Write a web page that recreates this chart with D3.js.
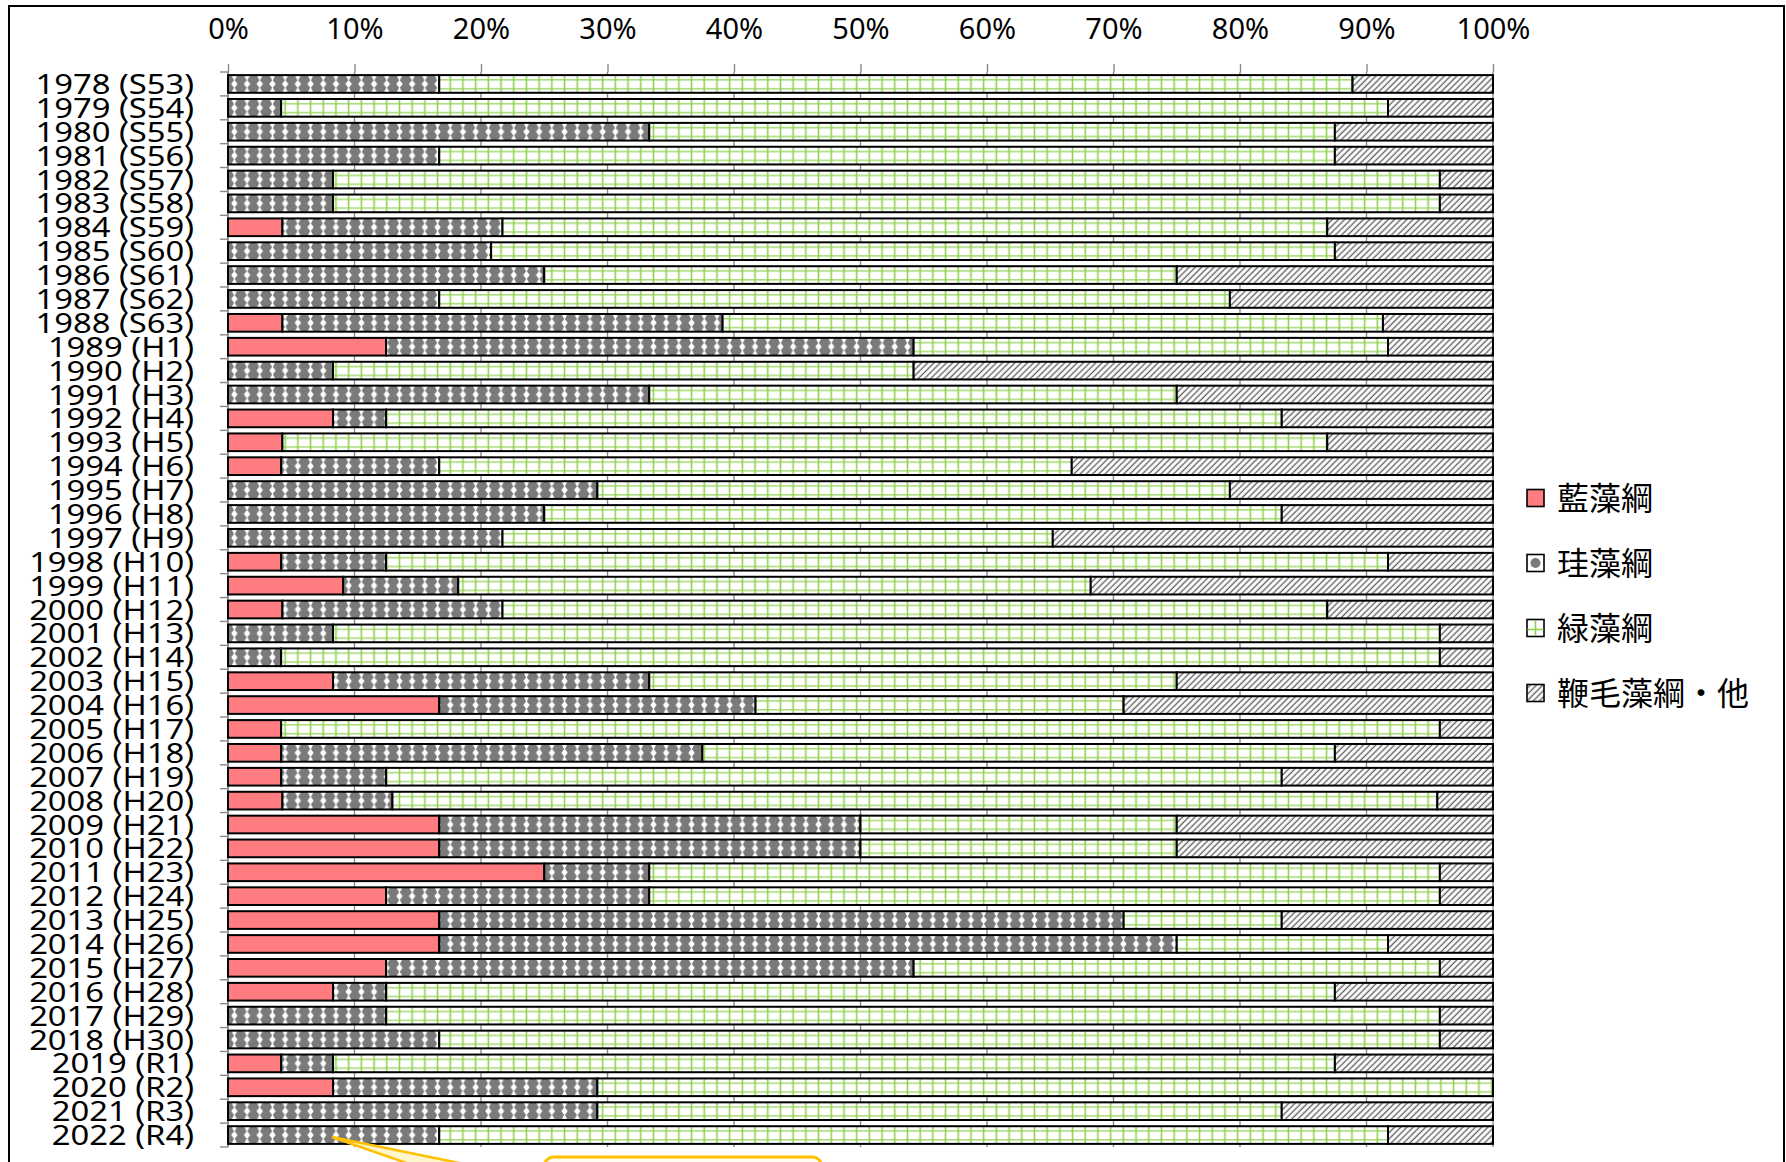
<!DOCTYPE html>
<html><head><meta charset="utf-8">
<script src="https://cdn.jsdelivr.net/npm/d3@7"></script>
<style>body{margin:0;background:#fff}svg{display:block}</style>
</head><body>
<svg id="c" width="1786" height="1162"></svg>
<script>
const categories = ["1978 (S53)","1979 (S54)","1980 (S55)","1981 (S56)","1982 (S57)","1983 (S58)","1984 (S59)","1985 (S60)","1986 (S61)","1987 (S62)","1988 (S63)","1989 (H1)","1990 (H2)","1991 (H3)","1992 (H4)","1993 (H5)","1994 (H6)","1995 (H7)","1996 (H8)","1997 (H9)","1998 (H10)","1999 (H11)","2000 (H12)","2001 (H13)","2002 (H14)","2003 (H15)","2004 (H16)","2005 (H17)","2006 (H18)","2007 (H19)","2008 (H20)","2009 (H21)","2010 (H22)","2011 (H23)","2012 (H24)","2013 (H25)","2014 (H26)","2015 (H27)","2016 (H28)","2017 (H29)","2018 (H30)","2019 (R1)","2020 (R2)","2021 (R3)","2022 (R4)"];
const seriesNames = ["藍藻綱","珪藻綱","緑藻綱","鞭毛藻綱・他"];
const cyano   = [0,0,0,0,0,0,4.3,0,0,0,4.3,12.5,0,0,8.3,4.3,4.2,0,0,0,4.2,9.1,4.3,0,0,8.3,16.7,4.2,4.2,4.2,4.3,16.7,16.7,25.0,12.5,16.7,16.7,12.5,8.3,0,0,4.2,8.3,0,0];
const diatom  = [16.7,4.2,33.3,16.7,8.3,8.3,17.4,20.8,25.0,16.7,34.8,41.7,8.3,33.3,4.2,0,12.5,29.2,25.0,21.7,8.3,9.1,17.4,8.3,4.2,25.0,25.0,0,33.3,8.3,8.7,33.3,33.3,8.3,20.8,54.1,58.3,41.7,4.2,12.5,16.7,4.1,20.9,29.2,16.7];
const green   = [72.2,87.5,54.2,70.8,87.5,87.5,65.2,66.7,50.0,62.5,52.2,37.5,45.9,41.7,70.8,82.6,50.0,50.0,58.3,43.5,79.2,50.0,65.2,87.5,91.6,41.7,29.1,91.6,50.0,70.8,82.6,25.0,25.0,62.5,62.5,12.5,16.7,41.6,75.0,83.3,79.1,79.2,70.8,54.1,75.0];
const other   = [11.1,8.3,12.5,12.5,4.2,4.2,13.1,12.5,25.0,20.8,8.7,8.3,45.8,25.0,16.7,13.1,33.3,20.8,16.7,34.8,8.3,31.8,13.1,4.2,4.2,25.0,29.2,4.2,12.5,16.7,4.4,25.0,25.0,4.2,4.2,16.7,8.3,4.2,12.5,4.2,4.2,12.5,0,16.7,8.3];
const xTicks = [0,10,20,30,40,50,60,70,80,90,100];

const svg = d3.select("#c");
const W = 1786, H = 1162;
const x = d3.scaleLinear().domain([0,100]).range([228,1493]);
const y = d3.scaleBand().domain(categories).range([72,1147]).paddingInner(0.26).paddingOuter(0.13);
const bh = y.bandwidth();
const FONT = "'Noto Sans','Open Sans',sans-serif";
const JFONT = "'Noto Sans CJK JP','Noto Sans',sans-serif";

// patterns
const defs = svg.append("defs");
const pw = 12.7;
const pDia = defs.append("pattern").attr("id","pDia").attr("patternUnits","userSpaceOnUse")
  .attr("width",pw).attr("height",bh).attr("x",x(0));
pDia.append("rect").attr("width",pw).attr("height",bh).attr("fill","#7a7a7a");
const cx = pw/2;
pDia.append("path").attr("fill","#fff")
  .attr("d",`M${cx-3.0},0 L${cx+3.0},0 L${cx},${bh*0.33} Z M${cx-3.0},${bh} L${cx+3.0},${bh} L${cx},${bh*0.67} Z`);
pDia.append("path").attr("fill","#fff")
  .attr("d",`M${cx},${bh/2-4.2} L${cx+3.2},${bh/2} L${cx},${bh/2+4.2} L${cx-3.2},${bh/2} Z`);

const pGr = defs.append("pattern").attr("id","pGr").attr("patternUnits","userSpaceOnUse")
  .attr("width",pw).attr("height",bh).attr("x",x(0));
pGr.append("rect").attr("width",pw).attr("height",bh).attr("fill","#fff");
pGr.append("line").attr("x1",pw/2).attr("x2",pw/2).attr("y1",0).attr("y2",bh).attr("stroke","#8fd14f").attr("stroke-width",1.6);
[0.27,0.77].forEach(f=>pGr.append("line").attr("x1",0).attr("x2",pw).attr("y1",bh*f).attr("y2",bh*f).attr("stroke","#8fd14f").attr("stroke-width",1.2));

const pHa = defs.append("pattern").attr("id","pHa").attr("patternUnits","userSpaceOnUse")
  .attr("width",4.4).attr("height",4.4).attr("patternTransform","rotate(45)");
pHa.append("rect").attr("width",4.4).attr("height",4.4).attr("fill","#fff");
pHa.append("line").attr("x1",1.2).attr("x2",1.2).attr("y1",0).attr("y2",4.4).attr("stroke","#666").attr("stroke-width",1.4);

const fills = ["#ff7c80","url(#pDia)","url(#pGr)","url(#pHa)"];

// frame
svg.append("rect").attr("x",9).attr("y",6).attr("width",W-11).attr("height",H+20)
  .attr("fill","none").attr("stroke","#000").attr("stroke-width",2);

// gridlines
svg.append("g").selectAll("line").data(xTicks).join("line")
  .attr("x1",d=>x(d)).attr("x2",d=>x(d)).attr("y1",y.range()[0]).attr("y2",y.range()[1])
  .attr("stroke","#8a8a8a").attr("stroke-width",1.4);

// top axis
const ax = svg.append("g").attr("transform",`translate(0,${y.range()[0]})`)
  .call(d3.axisTop(x).tickValues(xTicks).tickFormat(d=>d+"%").tickSize(8).tickSizeOuter(0));
ax.select(".domain").remove();
ax.selectAll(".tick line").attr("stroke","#8a8a8a").attr("stroke-width",1.4);
ax.selectAll(".tick text").attr("font-family",FONT).attr("font-size",29).attr("fill","#000").attr("y",-33).attr("dy",0);

// left axis line and ticks
svg.append("line").attr("x1",x(0)).attr("x2",x(0)).attr("y1",y.range()[0]).attr("y2",y.range()[1])
  .attr("stroke","#8a8a8a").attr("stroke-width",1.4);
svg.append("g").selectAll("line").data(d3.range(categories.length+1)).join("line")
  .attr("x1",x(0)-8).attr("x2",x(0)).attr("y1",i=>y.range()[0]+i*y.step()).attr("y2",i=>y.range()[0]+i*y.step())
  .attr("stroke","#8a8a8a").attr("stroke-width",1.4);

// category labels
svg.append("g").selectAll("text").data(categories).join("text")
  .attr("transform",d=>`translate(194,${y(d)+bh/2}) scale(1.17,1.0)`)
  .attr("dy","0.36em").attr("text-anchor","end")
  .attr("font-family",FONT).attr("font-size",28).attr("fill","#000").text(d=>d);

// stacked data
const table = categories.map((c,i)=>({cat:c, s0:cyano[i], s1:diatom[i], s2:green[i], s3:other[i]}));
const keys = ["s0","s1","s2","s3"];
const stack = d3.stack().keys(keys)(table);

const rows = svg.append("g").selectAll("g.row").data(table).join("g").attr("class","row")
  .attr("transform",d=>`translate(0,${y(d.cat)})`);
rows.selectAll("rect")
  .data((d,i)=>stack.map((s,k)=>({k:k, x0:s[i][0], x1:s[i][1]})).filter(s=>s.x1-s.x0>0))
  .join("rect")
  .attr("x",s=>x(s.x0)).attr("y",0)
  .attr("width",s=>x(s.x1)-x(s.x0)).attr("height",bh)
  .attr("fill",s=>fills[s.k]).attr("stroke","#000").attr("stroke-width",2);

// legend
const lg = svg.append("g");
const legY = [498,563,628,693];
seriesNames.forEach((n,k)=>{
  const g = lg.append("g").attr("transform",`translate(1527,${legY[k]})`);
  if(k===1){
    g.append("rect").attr("x",0).attr("y",-8.5).attr("width",17).attr("height",17).attr("fill","#fff").attr("stroke","#000").attr("stroke-width",1.6);
    g.append("circle").attr("cx",8.5).attr("cy",0).attr("r",5).attr("fill","#7a7a7a");
  } else if(k===2){
    g.append("rect").attr("x",0).attr("y",-8.5).attr("width",17).attr("height",17).attr("fill","#fff").attr("stroke","#000").attr("stroke-width",1.6);
    g.append("line").attr("x1",8.5).attr("x2",8.5).attr("y1",-8).attr("y2",8).attr("stroke","#8fd14f").attr("stroke-width",1.6);
    g.append("line").attr("x1",0.5).attr("x2",16.5).attr("y1",1.5).attr("y2",1.5).attr("stroke","#8fd14f").attr("stroke-width",1.6);
  } else {
    g.append("rect").attr("x",0).attr("y",-8.5).attr("width",17).attr("height",17).attr("fill",fills[k]).attr("stroke","#000").attr("stroke-width",1.6);
  }
  g.append("text").attr("x",30).attr("y",0).attr("dy","0.36em").attr("font-family",JFONT)
    .attr("font-size",32).attr("fill","#000").text(n);
});

// callout (partially visible at bottom)
const tip = [332,1137];
svg.append("path").attr("d",`M${tip[0]},${tip[1]} L415,1166 L474,1166 Z`).attr("fill","#fff6cc").attr("stroke","none");
svg.append("line").attr("x1",tip[0]).attr("y1",tip[1]).attr("x2",415).attr("y2",1166).attr("stroke","#ffc000").attr("stroke-width",2.5);
svg.append("line").attr("x1",tip[0]).attr("y1",tip[1]).attr("x2",474).attr("y2",1166).attr("stroke","#ffc000").attr("stroke-width",2.5);
svg.append("rect").attr("x",544).attr("y",1157).attr("width",278).attr("height",60).attr("rx",10)
  .attr("fill","#fffdf0").attr("stroke","#ffc000").attr("stroke-width",3);
</script>
</body></html>
